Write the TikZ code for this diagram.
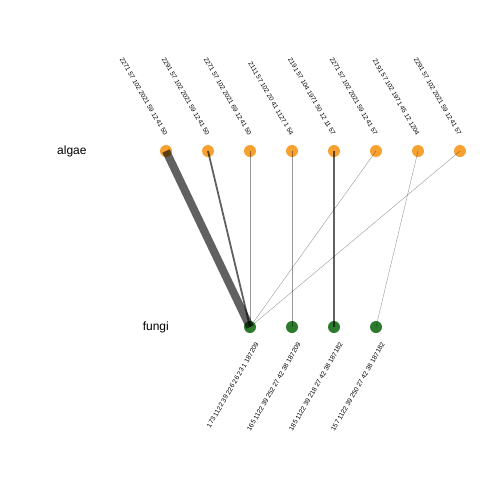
\documentclass[tikz,border=0pt]{standalone}
\usepackage{fontspec}
\setmainfont{Liberation Sans}
\usetikzlibrary{calc}
\definecolor{upper}{HTML}{F7A130}
\definecolor{lower}{HTML}{2C7A2C}
\begin{document}
\begin{tikzpicture}[x=1pt,y=-1pt,
  algae/.style={circle,fill=upper,inner sep=0pt,minimum size=12pt},
  fungus/.style={circle,fill=lower,inner sep=0pt,minimum size=12pt},
  toplab/.style={rotate=-60,anchor=east,inner sep=0pt,font=\fontsize{6.5}{7}\selectfont},
  botlab/.style={rotate=60,anchor=east,inner sep=0pt,font=\fontsize{6.6}{7}\selectfont},
  grouplab/.style={font=\fontsize{12}{13}\selectfont,inner sep=0pt},
  link/.style={draw=black,draw opacity=0.62,line cap=butt},
  thinlink/.style={link,line width=0.4pt,draw opacity=0.4},
]
\useasboundingbox (0,0) rectangle (480,480);

% group labels
\node[grouplab,anchor=west] (galgae) at (57,151) {algae};
\node[grouplab,anchor=east] (gfungi) at (169,327) {fungi};

% node positions
\foreach \i/\x in {1/166,2/208,3/250,4/292,5/334,6/376,7/418,8/460}
  \coordinate (a\i) at (\x,151);
\foreach \i/\x in {1/250,2/292,3/334,4/376}
  \coordinate (f\i) at (\x,327);

\foreach \i in {1,...,8} \node[algae] (na\i) at (a\i) {};
\foreach \i in {1,...,4} \node[fungus] (nf\i) at (f\i) {};

% interactions, drawn translucent over the nodes
\draw[link,line width=8pt] (a1) -- (f1);
\draw[link,line width=1.8pt] (a2) -- (f1);
\draw[thinlink] (a3) -- (f1);
\draw[thinlink] (a4) -- (f2);
\draw[link,line width=1.3pt] (a5) -- (f3);
\draw[thinlink] (a6) -- (f1);
\draw[thinlink] (a7) -- (f4);
\draw[thinlink] (a8) -- (f1);

% node labels
\node[toplab] (la1) at ($(a1)+(0,-16)$) {2271 57 102 2021 59 12 41 50};
\node[toplab] (la2) at ($(a2)+(0,-16)$) {2291 57 102 2021 59 12 41 50};
\node[toplab] (la3) at ($(a3)+(0,-16)$) {2271 57 102 2021 69 12 41 50};
\node[toplab] (la4) at ($(a4)+(0,-16)$) {2111 57 102 20 41 1127 1 54};
\node[toplab] (la5) at ($(a5)+(0,-16)$) {2191 57 104 1971 50 12 11 57};
\node[toplab] (la6) at ($(a6)+(0,-16)$) {2271 57 102 2021 59 12 41 57};
\node[toplab] (la7) at ($(a7)+(0,-16)$) {2191 57 102 1971 45 12 1204};
\node[toplab] (la8) at ($(a8)+(0,-16)$) {2291 57 102 2021 59 12 41 57};

\node[botlab] (lf1) at ($(f1)+(7,16)$) {173 1122 39 226 26 23 1 187209};
\node[botlab] (lf2) at ($(f2)+(7,16)$) {165 1122 39 252 27 42 38 187209};
\node[botlab] (lf3) at ($(f3)+(7,16)$) {185 1122 39 218 27 42 38 187182};
\node[botlab] (lf4) at ($(f4)+(7,16)$) {157 1122 39 250 27 42 38 187182};
\end{tikzpicture}
\end{document}
